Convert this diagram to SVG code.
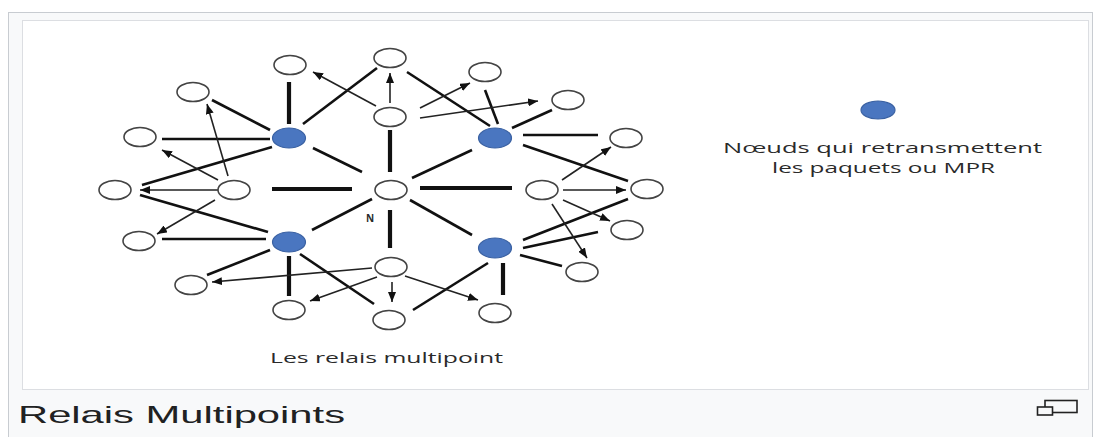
<svg xmlns="http://www.w3.org/2000/svg" width="1099" height="437" viewBox="0 0 1099 437">
<style>
.n{fill:#fff;stroke:#444;stroke-width:1.6}
.m{fill:#4a76c0;stroke:#3b62a3;stroke-width:1.2}
.l{stroke:#111;stroke-width:2.6;stroke-linecap:butt;fill:none}
.t{stroke:#111;stroke-width:4.2;fill:none}
.a{stroke:#222;stroke-width:1.6;fill:none;marker-end:url(#ah)}
.txt{font-family:"Open Sans","Liberation Sans",sans-serif;fill:#2a2a2a}
</style>
<defs>
<marker id="ah" viewBox="0 0 10 8" refX="10" refY="4" markerWidth="10" markerHeight="8" markerUnits="userSpaceOnUse" orient="auto">
<path d="M0,0 L10,4 L0,8 z" fill="#111"/>
</marker>
</defs>
<rect x="0" y="0" width="1099" height="437" fill="#fff"/>
<rect x="8.5" y="12.5" width="1084" height="430" fill="#f8f9fa" stroke="#c8ccd1"/>
<rect x="22.5" y="20.5" width="1066" height="369" fill="#fff" stroke="#dcdee2"/>

<g id="connectors">
<line class="t" x1="289" y1="82" x2="289" y2="124"/>
<line class="l" x1="212" y1="100" x2="270" y2="130"/>
<line class="l" x1="162" y1="139" x2="270" y2="139"/>
<line class="l" x1="142" y1="185" x2="272" y2="147"/>
<line class="l" x1="313" y1="148" x2="362" y2="172"/>
<line class="l" x1="303" y1="124" x2="377" y2="68"/>
<line class="l" x1="162" y1="239" x2="266" y2="239"/>
<line class="l" x1="140" y1="195" x2="268" y2="232"/>
<line class="l" x1="312" y1="230" x2="372" y2="199"/>
<line class="l" x1="207" y1="275" x2="270" y2="250"/>
<line class="t" x1="289" y1="256" x2="289" y2="296"/>
<line class="l" x1="300" y1="254" x2="374" y2="304"/>
<line class="l" x1="407" y1="72" x2="490" y2="126"/>
<line class="l" x1="485" y1="90" x2="498" y2="124"/>
<line class="l" x1="512" y1="128" x2="552" y2="110"/>
<line class="l" x1="523" y1="135" x2="598" y2="135"/>
<line class="l" x1="523" y1="145" x2="628" y2="181"/>
<line class="l" x1="472" y1="150" x2="412" y2="178"/>
<line class="l" x1="410" y1="200" x2="472" y2="235"/>
<line class="l" x1="413" y1="310" x2="488" y2="263"/>
<line class="t" x1="503" y1="263" x2="503" y2="295"/>
<line class="l" x1="520" y1="255" x2="562" y2="266"/>
<line class="l" x1="523" y1="248" x2="598" y2="232"/>
<line class="l" x1="523" y1="240" x2="628" y2="199"/>
<line class="t" x1="390" y1="130" x2="390" y2="172"/>
<line class="t" x1="272" y1="189" x2="352" y2="189"/>
<line class="t" x1="420" y1="188" x2="512" y2="188"/>
<line class="t" x1="390" y1="210" x2="390" y2="248"/>
<line class="a" x1="228" y1="176" x2="207" y2="104"/>
<line class="a" x1="218" y1="180" x2="162" y2="150"/>
<line class="a" x1="218" y1="190" x2="140" y2="190"/>
<line class="a" x1="215" y1="200" x2="157" y2="234"/>
<line class="a" x1="376" y1="106" x2="313" y2="72"/>
<line class="a" x1="390" y1="103" x2="390" y2="73"/>
<line class="a" x1="420" y1="108" x2="470" y2="83"/>
<line class="a" x1="420" y1="118" x2="538" y2="101"/>
<line class="a" x1="562" y1="180" x2="611" y2="147"/>
<line class="a" x1="563" y1="190" x2="626" y2="190"/>
<line class="a" x1="563" y1="200" x2="610" y2="221"/>
<line class="a" x1="552" y1="204" x2="587" y2="258"/>
<line class="a" x1="372" y1="268" x2="212" y2="282"/>
<line class="a" x1="377" y1="277" x2="310" y2="301"/>
<line class="a" x1="392" y1="282" x2="392" y2="302"/>
<line class="a" x1="405" y1="276" x2="478" y2="300"/>
</g>

<g id="node-a1"><ellipse class="n" cx="290" cy="65" rx="16" ry="9.5"/></g>
<g id="node-a2"><ellipse class="n" cx="193" cy="92" rx="16" ry="9.5"/></g>
<g id="node-a3"><ellipse class="n" cx="140" cy="137" rx="16" ry="9.5"/></g>
<g id="node-a4"><ellipse class="n" cx="115" cy="190" rx="16" ry="9.5"/></g>
<g id="node-a5"><ellipse class="n" cx="234" cy="190" rx="16" ry="9.5"/></g>
<g id="node-c1"><ellipse class="n" cx="390" cy="58" rx="16" ry="9.5"/></g>
<g id="node-c2"><ellipse class="n" cx="390" cy="117" rx="16" ry="9.5"/></g>
<g id="node-N"><ellipse class="n" cx="391" cy="190" rx="16" ry="9.5"/></g>
<g id="node-c3"><ellipse class="n" cx="391" cy="267" rx="16" ry="9.5"/></g>
<g id="node-c4"><ellipse class="n" cx="389" cy="320" rx="16" ry="9.5"/></g>
<g id="node-b1"><ellipse class="n" cx="485" cy="72" rx="16" ry="9.5"/></g>
<g id="node-b2"><ellipse class="n" cx="568" cy="100" rx="16" ry="9.5"/></g>
<g id="node-b3"><ellipse class="n" cx="626" cy="138" rx="16" ry="9.5"/></g>
<g id="node-b4"><ellipse class="n" cx="542" cy="190" rx="16" ry="9.5"/></g>
<g id="node-b5"><ellipse class="n" cx="647" cy="189" rx="16" ry="9.5"/></g>
<g id="node-d1"><ellipse class="n" cx="627" cy="230" rx="16" ry="9.5"/></g>
<g id="node-d2"><ellipse class="n" cx="582" cy="272" rx="16" ry="9.5"/></g>
<g id="node-d3"><ellipse class="n" cx="495" cy="313" rx="16" ry="9.5"/></g>
<g id="node-e1"><ellipse class="n" cx="139" cy="241" rx="16" ry="9.5"/></g>
<g id="node-e2"><ellipse class="n" cx="191" cy="285" rx="16" ry="9.5"/></g>
<g id="node-e3"><ellipse class="n" cx="289" cy="310" rx="16" ry="9.5"/></g>
<g id="node-B1"><ellipse class="m" cx="289" cy="138" rx="16.5" ry="10"/></g>
<g id="node-B2"><ellipse class="m" cx="495" cy="138" rx="16.5" ry="10"/></g>
<g id="node-B3"><ellipse class="m" cx="289" cy="242" rx="16.5" ry="10"/></g>
<g id="node-B4"><ellipse class="m" cx="495" cy="248" rx="16.5" ry="10"/></g>

<text class="txt" x="366" y="222" font-size="10" font-weight="bold">N</text>
<text class="txt" x="270" y="363" font-size="14" textLength="233" lengthAdjust="spacingAndGlyphs">Les relais multipoint</text>

<g id="legend">
<ellipse class="m" cx="878" cy="110" rx="17" ry="9"/>
<text class="txt" x="723" y="153" font-size="14.5" textLength="319" lengthAdjust="spacingAndGlyphs">Nœuds qui retransmettent</text>
<text class="txt" x="772" y="173" font-size="14.5" textLength="223" lengthAdjust="spacingAndGlyphs">les paquets ou MPR</text>
</g>

<text x="18" y="423" font-family="'Liberation Sans',Arial,sans-serif" font-size="24" fill="#202122" textLength="327" lengthAdjust="spacingAndGlyphs">Relais Multipoints</text>
<g id="icon" fill="none" stroke="#222" stroke-width="1.6">
<rect x="1045" y="400.5" width="32" height="12"/>
<rect x="1037.5" y="407" width="15" height="8" fill="#f8f9fa"/>
</g>
</svg>
